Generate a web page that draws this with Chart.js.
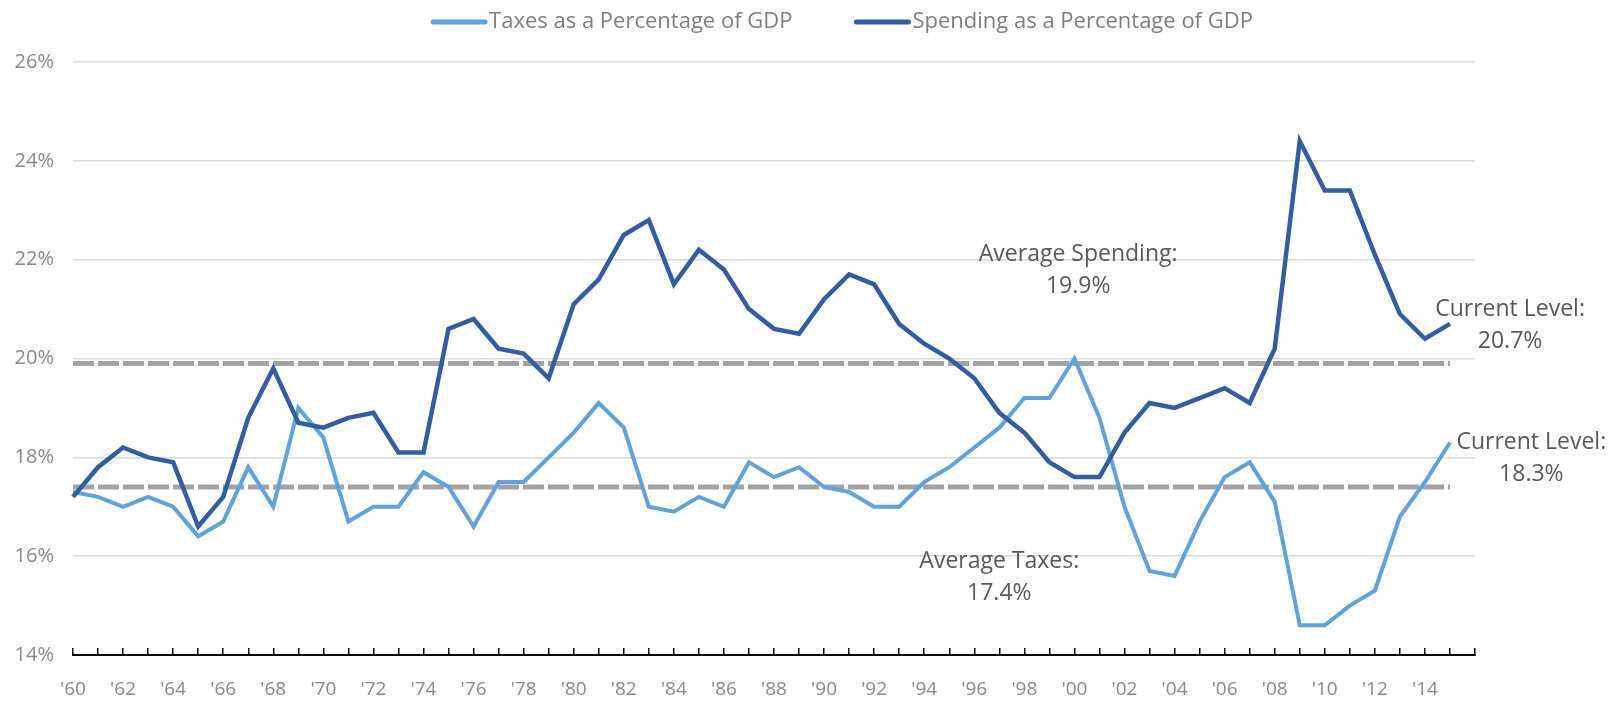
<!DOCTYPE html>
<html>
<head>
<meta charset="utf-8">
<script src="https://cdn.jsdelivr.net/npm/chart.js@4.4.1/dist/chart.umd.min.js"></script>
<style>
  html, body { margin: 0; padding: 0; background: #fff; }
  #wrap { width: 1614px; height: 707px; }
</style>
</head>
<body>
<div id="wrap"><canvas id="myChart"></canvas></div>
<script>
// years on the axis (the axis runs one year past the last value)
var years = [1960, 1961, 1962, 1963, 1964, 1965, 1966, 1967, 1968, 1969,
  1970, 1971, 1972, 1973, 1974, 1975, 1976, 1977, 1978, 1979,
  1980, 1981, 1982, 1983, 1984, 1985, 1986, 1987, 1988, 1989,
  1990, 1991, 1992, 1993, 1994, 1995, 1996, 1997, 1998, 1999,
  2000, 2001, 2002, 2003, 2004, 2005, 2006, 2007, 2008, 2009,
  2010, 2011, 2012, 2013, 2014, 2015, 2016];

// % of GDP, 1960-2015
var taxes = [17.3, 17.2, 17.0, 17.2, 17.0, 16.4, 16.7, 17.8, 17.0, 19.0,
  18.4, 16.7, 17.0, 17.0, 17.7, 17.4, 16.6, 17.5, 17.5, 18.0,
  18.5, 19.1, 18.6, 17.0, 16.9, 17.2, 17.0, 17.9, 17.6, 17.8,
  17.4, 17.3, 17.0, 17.0, 17.5, 17.8, 18.2, 18.6, 19.2, 19.2,
  20.0, 18.8, 17.0, 15.7, 15.6, 16.7, 17.6, 17.9, 17.1, 14.6,
  14.6, 15.0, 15.3, 16.8, 17.5, 18.3];

var spending = [17.2, 17.8, 18.2, 18.0, 17.9, 16.6, 17.2, 18.8, 19.8, 18.7,
  18.6, 18.8, 18.9, 18.1, 18.1, 20.6, 20.8, 20.2, 20.1, 19.6,
  21.1, 21.6, 22.5, 22.8, 21.5, 22.2, 21.8, 21.0, 20.6, 20.5,
  21.2, 21.7, 21.5, 20.7, 20.3, 20.0, 19.6, 18.9, 18.5, 17.9,
  17.6, 17.6, 18.5, 19.1, 19.0, 19.2, 19.4, 19.1, 20.2, 24.4,
  23.4, 23.4, 22.1, 20.9, 20.4, 20.7];

var avgTaxes = 17.4;
var avgSpending = 19.9;

var yTicks = [14, 16, 18, 20, 22, 24, 26];

var labels = years.map(String);
var firstYear = String(years[0]);
var lastYear = String(years[taxes.length - 1]);

function pct(v) { return v.toFixed(1) + "%"; }

Chart.defaults.font.family = "'Open Sans', sans-serif";

// legend drawn as a short thick line followed by the text
var legendPlugin = {
  id: "lineLegend",
  afterDraw: function(chart) {
    var o = chart.options.plugins.lineLegend;
    var ctx = chart.ctx;
    ctx.save();
    ctx.font = o.size + "px 'Open Sans', sans-serif";
    ctx.textBaseline = "middle";
    var items = chart.data.datasets.filter(function(d) { return !d.noLegend; });
    var total = 0;
    items.forEach(function(d, i) {
      total += o.lineLength + o.textGap + ctx.measureText(d.label).width;
      if (i > 0) total += o.itemGap;
    });
    var x = o.centerX - total / 2;
    items.forEach(function(d) {
      ctx.strokeStyle = d.borderColor;
      ctx.lineWidth = o.lineWidth;
      ctx.lineCap = "round";
      ctx.beginPath();
      ctx.moveTo(x + 2, o.y);
      ctx.lineTo(x + o.lineLength - 2, o.y);
      ctx.stroke();
      x += o.lineLength + o.textGap;
      ctx.fillStyle = o.color;
      ctx.fillText(d.label, x, o.y);
      x += ctx.measureText(d.label).width + o.itemGap;
    });
    ctx.restore();
  }
};

// text notes placed through the scales
var notesPlugin = {
  id: "notes",
  afterDatasetsDraw: function(chart) {
    var o = chart.options.plugins.notes;
    var ctx = chart.ctx;
    var xs = chart.scales.x, ys = chart.scales.y;
    ctx.save();
    ctx.font = o.size + "px 'Open Sans', sans-serif";
    ctx.fillStyle = o.color;
    ctx.textAlign = "center";
    ctx.textBaseline = "middle";
    o.items.forEach(function(n) {
      var px = xs.getPixelForValue(n.at);
      var py = ys.getPixelForValue(n.value);
      n.lines.forEach(function(t, i) {
        ctx.fillText(t, px, py + i * o.lineGap);
      });
    });
    ctx.restore();
  }
};

var ctx = document.getElementById("myChart").getContext("2d");
var myChart = new Chart(ctx, {
  type: "line",
  data: {
    labels: labels,
    datasets: [
      {
        label: "Taxes as a Percentage of GDP",
        data: taxes,
        borderColor: "#5ba4df",
        borderWidth: 4,
        pointRadius: 0,
        tension: 0,
        order: 2
      },
      {
        label: "Spending as a Percentage of GDP",
        data: spending,
        borderColor: "#2f5ea6",
        borderWidth: 4.5,
        pointRadius: 0,
        tension: 0,
        order: 1
      },
      {
        label: "Average Spending",
        noLegend: true,
        data: [{ x: firstYear, y: avgSpending }, { x: lastYear, y: avgSpending }],
        borderColor: "#a3a3a3",
        borderWidth: 5,
        borderDash: [21, 4],
        pointRadius: 0,
        order: 3
      },
      {
        label: "Average Taxes",
        noLegend: true,
        data: [{ x: firstYear, y: avgTaxes }, { x: lastYear, y: avgTaxes }],
        borderColor: "#a3a3a3",
        borderWidth: 5,
        borderDash: [21, 4],
        pointRadius: 0,
        order: 3
      }
    ]
  },
  options: {
    responsive: true,
    maintainAspectRatio: false,
    animation: false,
    events: [],
    layout: { padding: { top: 62, right: 139, bottom: 0, left: 15 } },
    scales: {
      x: {
        type: "category",
        offset: false,
        afterFit: function(scale) { scale.height = 52; },
        grid: {
          display: true,
          drawOnChartArea: false,
          drawTicks: true,
          tickLength: -7,
          color: "#000",
          lineWidth: 1.5
        },
        border: { display: true, color: "#000", width: 2 },
        ticks: {
          autoSkip: false,
          maxRotation: 0,
          padding: 30,
          color: "#8a8a8a",
          font: { size: 19 },
          callback: function(value, index) {
            var y = years[index];
            return (y % 2 === 0 && y < 2016) ? "'" + String(y).slice(2) : "";
          }
        }
      },
      y: {
        min: 14,
        max: 26,
        afterFit: function(scale) { scale.width = 58; },
        afterBuildTicks: function(scale) {
          scale.ticks = yTicks.map(function(v) { return { value: v }; });
        },
        grid: {
          drawTicks: false,
          color: function(c) { return c.tick && c.tick.value === 14 ? "rgba(0,0,0,0)" : "#dadada"; },
          lineWidth: 1.5
        },
        border: { display: false },
        ticks: {
          padding: 19,
          color: "#8a8a8a",
          font: { size: 20 },
          callback: function(v) { return v + "%"; }
        }
      }
    },
    plugins: {
      legend: { display: false },
      tooltip: { enabled: false },
      lineLegend: {
        centerX: 842, y: 22, size: 22, color: "#7f7f7f",
        lineLength: 56, lineWidth: 5, textGap: 2, itemGap: 62
      },
      notes: {
        size: 23, color: "#595959", lineGap: 32,
        items: [
          { lines: ["Average Spending:", pct(avgSpending)], at: 40.15, value: 22.1 },
          { lines: ["Average Taxes:", pct(avgTaxes)], at: 37.0, value: 15.9 },
          { lines: ["Current Level:", pct(spending[spending.length - 1])], at: 57.4, value: 21.0 },
          { lines: ["Current Level:", pct(taxes[taxes.length - 1])], at: 58.25, value: 18.3 }
        ]
      }
    }
  },
  plugins: [legendPlugin, notesPlugin]
});
</script>
</body>
</html>
